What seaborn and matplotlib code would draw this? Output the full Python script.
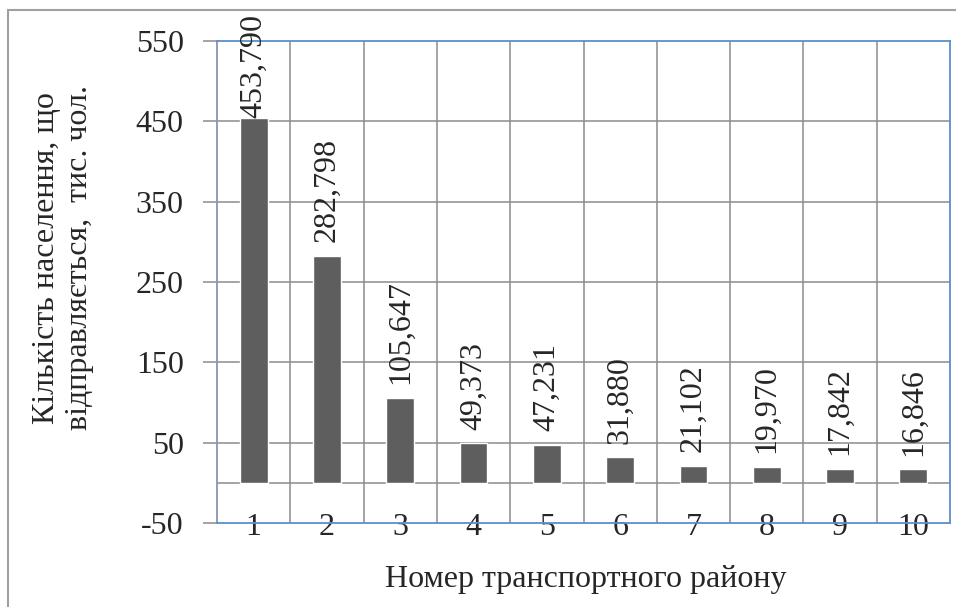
import matplotlib
matplotlib.use("Agg")
import matplotlib.pyplot as plt
import seaborn as sns
import pandas as pd
from matplotlib.patches import Rectangle

# Transport districts and departing population (thousand people)
districts = ["1", "2", "3", "4", "5", "6", "7", "8", "9", "10"]
population = [453.790, 282.798, 105.647, 49.373, 47.231, 31.880, 21.102, 19.970, 17.842, 16.846]
value_labels = ["453,790", "282,798", "105,647", "49,373", "47,231",
                "31,880", "21,102", "19,970", "17,842", "16,846"]
y_ticks = [-50, 50, 150, 250, 350, 450, 550]
y_tick_labels = ["-50", "50", "150", "250", "350", "450", "550"]

df = pd.DataFrame({"district": districts, "population": population})

sns.set_theme(style="white")
plt.rcParams["font.family"] = ["Liberation Serif", "DejaVu Serif"]
plt.rcParams["axes.unicode_minus"] = False

FS = 23
GRID = "#8C8C8C"
BLUE = "#5B8FCB"

fig = plt.figure(figsize=(9.56, 6.07), dpi=100)
ax = fig.add_axes([217 / 956, 1 - 523 / 607, (950 - 217) / 956, (523 - 41) / 607])

# outer chart frame
fig.patches.append(Rectangle((8 / 956, -0.1), 1.2, 1 - 10 / 607 + 0.1,
                             transform=fig.transFigure, fill=False,
                             edgecolor="#A0A0A0", linewidth=1.5, zorder=0))

sns.barplot(data=df, x="district", y="population", color="#5E5E5E",
            width=0.38, saturation=1, ax=ax, zorder=3)

ax.set_xlim(-0.5, len(districts) - 0.5)
ax.set_ylim(-50, 550)
ax.set_yticks(y_ticks)
ax.set_yticklabels(y_tick_labels, fontsize=FS)

# grid: horizontal at major ticks, vertical between categories
for y in y_ticks[1:-1]:
    ax.axhline(y, color=GRID, lw=1.1, zorder=1)
ax.axhline(0, color=GRID, lw=1.1, zorder=1)
for i in range(1, len(districts)):
    ax.axvline(i - 0.5, color=GRID, lw=1.1, zorder=1)

for side in ("top", "bottom", "right"):
    ax.spines[side].set_color(BLUE)
    ax.spines[side].set_linewidth(1.3)
ax.spines["left"].set_color("#8497B0")
ax.spines["left"].set_linewidth(1.3)

ax.tick_params(axis="y", which="major", left=True, length=10, width=1.1,
               color=GRID, pad=14, labelsize=FS)
ax.tick_params(axis="x", bottom=False, pad=-13.5, labelsize=FS)
for lbl in ax.get_xticklabels():
    lbl.set_zorder(5)

# value labels above the bars, kept inside the chart frame
for i, (v, txt) in enumerate(zip(population, value_labels)):
    y = v + 17 if v + 17 + 130 < 580 else v
    ax.text(i, y, txt, rotation=90, ha="center", va="bottom",
            fontsize=FS, zorder=6, clip_on=False)

ax.set_ylabel("Кількість населення, що\nвідправляється,  тис. чол.",
              fontsize=FS, ha="center", va="center", multialignment="center",
              linespacing=1.2)
ax.yaxis.set_label_coords(-0.21, 0.55)
ax.set_xlabel("Номер транспортного району", fontsize=FS, va="center")
ax.xaxis.set_label_coords(0.503, -0.118)

fig.savefig("out.png", dpi=100)
